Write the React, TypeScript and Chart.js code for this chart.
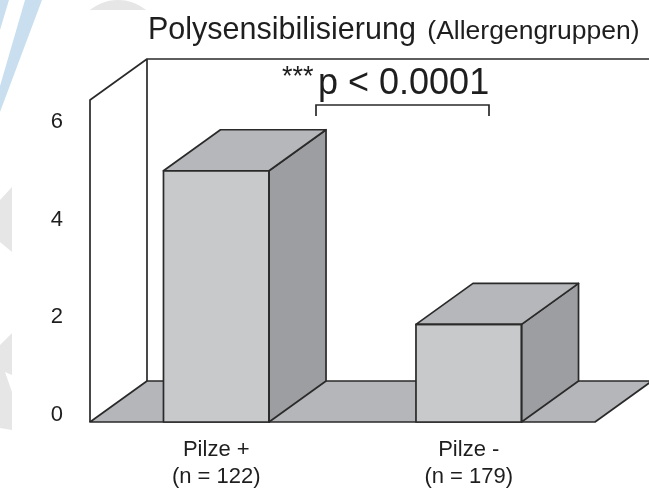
import React, { useEffect, useRef } from "react";
import { Chart, registerables } from "chart.js";

Chart.register(...registerables);

const categories: string[][] = [["Pilze +", "(n = 122)"], ["Pilze -", "(n = 179)"]];
const values: number[] = [5.15, 2.0];
const yTickValues: number[] = [0, 2, 4, 6];
const yMax = 6.6;
const titleMain = "Polysensibilisierung";
const titleSub = "(Allergengruppen)";
const sigStars = "***";
const sigText = "p < 0.0001";

const FONT = '"Liberation Sans", Arial, Helvetica, sans-serif';
const DX = 57;
const DY = -41;
const C_FRONT = "#c8c9cb";
const C_TOP = "#b6b7ba";
const C_SIDE = "#9d9ea1";
const C_FLOOR = "#b5b6b9";
const C_LINE = "#2a2a2a";

function poly(ctx: CanvasRenderingContext2D, pts: number[][], fill?: string, stroke = true) {
  ctx.beginPath();
  ctx.moveTo(pts[0][0], pts[0][1]);
  for (let i = 1; i < pts.length; i++) ctx.lineTo(pts[i][0], pts[i][1]);
  ctx.closePath();
  if (fill) {
    ctx.fillStyle = fill;
    ctx.fill();
  }
  if (stroke) ctx.stroke();
}

const watermark = {
  id: "watermark",
  beforeDraw(chart: any) {
    const ctx: CanvasRenderingContext2D = chart.ctx;
    ctx.save();
    ctx.fillStyle = "#c9dff0";
    ctx.beginPath();
    ctx.moveTo(25, 0);
    ctx.lineTo(42, 0);
    ctx.lineTo(0, 112);
    ctx.lineTo(0, 86);
    ctx.closePath();
    ctx.fill();
    ctx.beginPath();
    ctx.moveTo(0, 0);
    ctx.lineTo(9, 0);
    ctx.lineTo(0, 30);
    ctx.closePath();
    ctx.fill();
    ctx.fillStyle = "#e6e6e6";
    ctx.beginPath();
    ctx.rect(0, 0, 649, 10);
    ctx.clip();
    ctx.beginPath();
    ctx.arc(118, 45, 45, 0, Math.PI * 2);
    ctx.fill();
    ctx.restore();
    ctx.save();
    ctx.fillStyle = "#e6e6e6";
    ctx.beginPath();
    ctx.moveTo(0, 200);
    ctx.lineTo(12, 187);
    ctx.lineTo(12, 252);
    ctx.lineTo(0, 242);
    ctx.closePath();
    ctx.fill();
    ctx.beginPath();
    ctx.moveTo(0, 345);
    ctx.lineTo(12, 333);
    ctx.lineTo(12, 375);
    ctx.lineTo(5, 372);
    ctx.lineTo(12, 392);
    ctx.lineTo(12, 430);
    ctx.lineTo(0, 428);
    ctx.closePath();
    ctx.fill();
    ctx.restore();
  },
};

const threeD = {
  id: "threeD",
  beforeDatasetsDraw(chart: any) {
    const ctx: CanvasRenderingContext2D = chart.ctx;
    const a = chart.chartArea;
    const y0 = chart.scales.y.getPixelForValue(0);
    const yT = a.top;
    ctx.save();
    ctx.strokeStyle = C_LINE;
    ctx.lineWidth = 1.7;
    ctx.lineJoin = "round";
    poly(ctx, [[a.left, y0], [a.right, y0], [a.right + DX, y0 + DY], [a.left + DX, y0 + DY]], C_FLOOR);
    ctx.beginPath();
    ctx.moveTo(a.left, y0);
    ctx.lineTo(a.left, yT);
    ctx.lineTo(a.left + DX, yT + DY);
    ctx.lineTo(chart.width + 5, yT + DY);
    ctx.moveTo(a.left + DX, yT + DY);
    ctx.lineTo(a.left + DX, y0 + DY);
    ctx.stroke();
    ctx.restore();
  },
  afterDatasetsDraw(chart: any) {
    const ctx: CanvasRenderingContext2D = chart.ctx;
    const meta = chart.getDatasetMeta(0);
    ctx.save();
    ctx.strokeStyle = C_LINE;
    ctx.lineWidth = 1.7;
    ctx.lineJoin = "round";
    meta.data.forEach((el: any) => {
      const x0 = el.x - el.width / 2;
      const x1 = el.x + el.width / 2;
      const yt = el.y;
      const yb = el.base;
      poly(ctx, [[x1, yt], [x1 + DX, yt + DY], [x1 + DX, yb + DY], [x1, yb]], C_SIDE);
      poly(ctx, [[x0, yt], [x0 + DX, yt + DY], [x1 + DX, yt + DY], [x1, yt]], C_TOP);
      poly(ctx, [[x0, yt], [x1, yt], [x1, yb], [x0, yb]]);
    });
    ctx.restore();
  },
  afterDraw(chart: any) {
    const ctx: CanvasRenderingContext2D = chart.ctx;
    ctx.save();
    ctx.fillStyle = "#1e1e1e";
    ctx.textBaseline = "alphabetic";
    ctx.textAlign = "left";
    ctx.font = `30.5px ${FONT}`;
    ctx.fillText(titleMain, 148, 39);
    const w = ctx.measureText(titleMain + " ").width;
    ctx.font = `26.5px ${FONT}`;
    ctx.fillText(titleSub, 148 + w + 3, 39);
    ctx.font = `27px ${FONT}`;
    ctx.fillText(sigStars, 282, 85);
    ctx.font = `36px ${FONT}`;
    ctx.fillText(sigText, 318, 94);
    ctx.strokeStyle = C_LINE;
    ctx.lineWidth = 1.7;
    ctx.beginPath();
    ctx.moveTo(316, 116);
    ctx.lineTo(316, 105);
    ctx.lineTo(489, 105);
    ctx.lineTo(489, 116);
    ctx.stroke();
    ctx.restore();
  },
};

export default function App() {
  const ref = useRef<HTMLCanvasElement | null>(null);
  useEffect(() => {
    if (!ref.current) return;
    const chart = new Chart(ref.current, {
      type: "bar",
      data: {
        labels: categories,
        datasets: [
          {
            data: values,
            backgroundColor: C_FRONT,
            borderColor: C_LINE,
            borderWidth: 0,
            borderSkipped: false,
            categoryPercentage: 1,
            barPercentage: 0.418,
          },
        ],
      },
      options: {
        animation: false,
        responsive: true,
        maintainAspectRatio: false,
        layout: { padding: { left: 0, right: 54, top: 100, bottom: 0 } },
        plugins: { legend: { display: false }, tooltip: { enabled: false }, title: { display: false } },
        scales: {
          x: {
            grid: { display: false },
            border: { display: false },
            ticks: {
              color: "#1e1e1e",
              font: { family: FONT, size: 22, lineHeight: 1.2 },
              padding: 7,
              maxRotation: 0,
              autoSkip: false,
            },
            afterFit: (s: any) => {
              s.height = 66;
            },
          },
          y: {
            min: 0,
            max: yMax,
            grid: { display: false },
            border: { display: false },
            afterBuildTicks: (s: any) => {
              s.ticks = yTickValues.map((v) => ({ value: v }));
            },
            ticks: {
              color: "#1e1e1e",
              font: { family: FONT, size: 22 },
              padding: 19,
              labelOffset: -7,
            },
            afterFit: (s: any) => {
              s.width = 90;
            },
          },
        },
      },
      plugins: [watermark, threeD],
    });
    return () => chart.destroy();
  }, []);
  return (
    <div style={{ position: "fixed", left: 0, top: 0, width: 649, height: 488, background: "#fff" }}>
      <canvas ref={ref} />
    </div>
  );
}
